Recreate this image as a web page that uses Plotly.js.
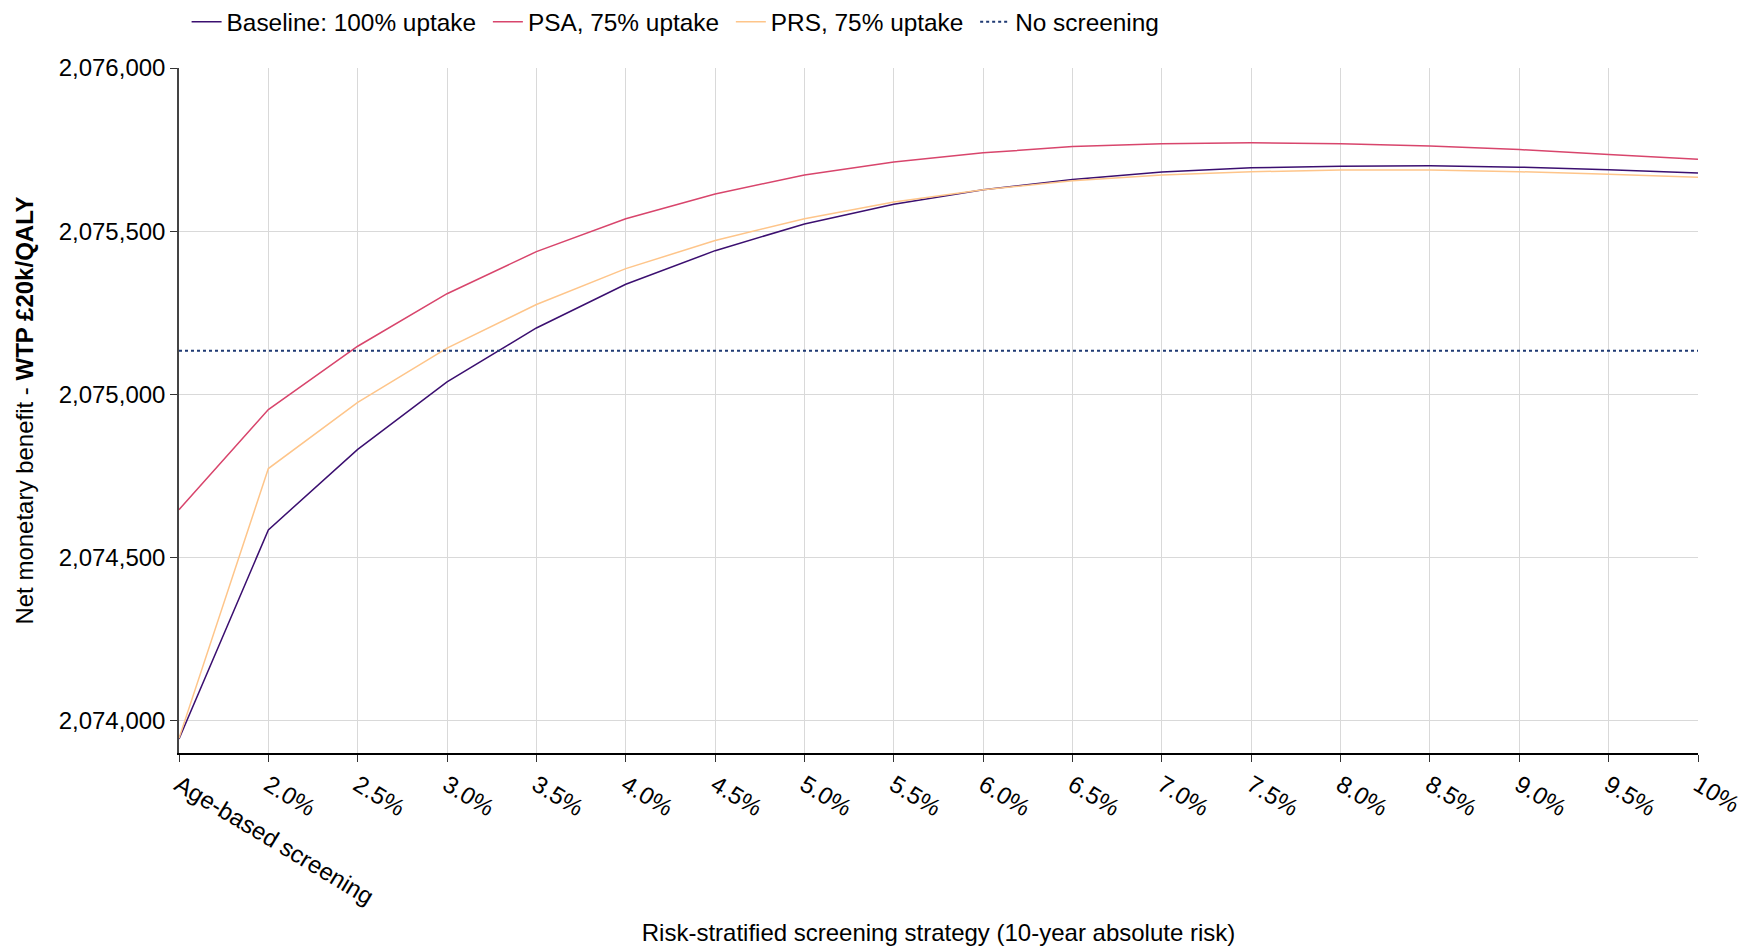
<!DOCTYPE html>
<html>
<head>
<meta charset="utf-8">
<script src="https://cdn.plot.ly/plotly-3.0.1.min.js"></script>
<style>
  html, body { margin: 0; padding: 0; background: #ffffff; }
  #chart { width: 1744px; height: 946px; }
</style>
</head>
<body>
<div id="chart"></div>
<script>
// ---- Data ----
const categories = ["Age-based screening", "2.0%", "2.5%", "3.0%", "3.5%", "4.0%", "4.5%", "5.0%", "5.5%",
  "6.0%", "6.5%", "7.0%", "7.5%", "8.0%", "8.5%", "9.0%", "9.5%", "10%"];

const baselineValues = [2073943, 2074584, 2074831, 2075038, 2075203, 2075337, 2075440, 2075522, 2075582,
  2075627, 2075658, 2075681, 2075694, 2075699, 2075700, 2075696, 2075688, 2075678];

const psaValues = [2074646, 2074953, 2075147, 2075308, 2075437, 2075538, 2075614, 2075672, 2075712,
  2075740, 2075759, 2075768, 2075771, 2075768, 2075761, 2075750, 2075735, 2075720];

const prsValues = [2073945, 2074772, 2074975, 2075141, 2075275, 2075385, 2075471, 2075538, 2075589,
  2075627, 2075654, 2075672, 2075682, 2075687, 2075687, 2075682, 2075674, 2075665];

const noScreeningValue = 2075133;

const seriesNames = ["Baseline: 100% uptake", "PSA, 75% uptake", "PRS, 75% uptake", "No screening"];

// ---- Traces ----
const FONT = '"Liberation Sans", Arial, sans-serif';
const PAD = '\u00a0';

const traces = [
  {
    x: categories, y: baselineValues, name: seriesNames[0] + PAD, type: 'scatter', mode: 'lines',
    line: { color: '#3b0f70', width: 1.5 }
  },
  {
    x: categories, y: psaValues, name: seriesNames[1] + PAD, type: 'scatter', mode: 'lines',
    line: { color: '#d8456c', width: 1.5 }
  },
  {
    x: categories, y: prsValues, name: seriesNames[2] + PAD, type: 'scatter', mode: 'lines',
    line: { color: '#fec58a', width: 1.5 }
  },
  {
    x: [categories[0], categories[categories.length - 1]],
    y: [noScreeningValue, noScreeningValue],
    name: seriesNames[3], type: 'scatter', mode: 'lines',
    line: { color: '#1f3a73', width: 2, dash: 'dot' }
  }
];

const layout = {
  width: 1744,
  height: 946,
  paper_bgcolor: '#ffffff',
  plot_bgcolor: '#ffffff',
  font: { family: FONT, size: 24, color: '#000000' },
  margin: { l: 179, r: 46, t: 68, b: 193, pad: 0, autoexpand: false },
  showlegend: true,
  legend: {
    orientation: 'h',
    x: 0.005, xanchor: 'left',
    y: 1.0 + 46 / 685, yanchor: 'middle',
    font: { family: FONT, size: 24.4, color: '#000000' },
    bgcolor: 'rgba(0,0,0,0)',
    itemwidth: 30,
    tracegroupgap: 0
  },
  xaxis: {
    type: 'category',
    range: [0, categories.length - 1],
    tickangle: 31,
    showgrid: true,
    gridcolor: '#d9d9d9',
    gridwidth: 1,
    showline: true,
    linecolor: '#000000',
    linewidth: 1.5,
    ticks: 'outside',
    ticklen: 7,
    tickcolor: '#333333',
    tickwidth: 1,
    tickfont: { family: FONT, size: 24, color: '#000000' },
    zeroline: false,
    automargin: false,
    title: {
      text: 'Risk-stratified screening strategy (10-year absolute risk)',
      font: { family: FONT, size: 24, color: '#000000' },
      standoff: 20
    }
  },
  yaxis: {
    range: [2073900, 2076000],
    tick0: 2074000,
    dtick: 500,
    tickformat: ',d',
    showgrid: true,
    gridcolor: '#d9d9d9',
    gridwidth: 1,
    showline: true,
    linecolor: '#444444',
    linewidth: 1.5,
    ticks: 'outside',
    ticklen: 7,
    tickcolor: '#333333',
    tickwidth: 1,
    tickfont: { family: FONT, size: 24, color: '#000000' },
    zeroline: false,
    automargin: false,
    title: {
      text: 'Net monetary benefit - <b>WTP £20k/QALY</b>',
      font: { family: FONT, size: 24, color: '#000000' },
      standoff: 18
    }
  }
};

Plotly.newPlot('chart', traces, layout, { displayModeBar: false, responsive: false });
</script>
</body>
</html>
